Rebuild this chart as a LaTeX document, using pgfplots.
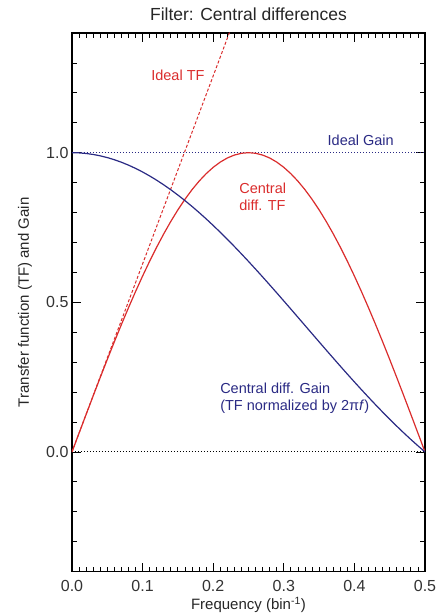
\documentclass[border=0pt]{standalone}
\usepackage{pgfplots}
\pgfplotsset{compat=1.18}
\usepackage{fontspec}
\setmainfont{Liberation Sans}

\definecolor{tfred}{RGB}{218,44,44}
\definecolor{gainblue}{RGB}{42,42,132}

% Transfer function of the central-difference filter, sin(2 pi f),
% and its gain, the transfer function divided by 2 pi f
\pgfplotstableread{
f tf gain
0.00 0.00000 1.00000
0.01 0.06279 0.99934
0.02 0.12533 0.99737
0.03 0.18738 0.99408
0.04 0.24869 0.98951
0.05 0.30902 0.98364
0.06 0.36812 0.97647
0.07 0.42578 0.96807
0.08 0.48175 0.95842
0.09 0.53583 0.94756
0.10 0.58779 0.93549
0.11 0.63742 0.92226
0.12 0.68455 0.90791
0.13 0.72897 0.89246
0.14 0.77051 0.87593
0.15 0.80902 0.85840
0.16 0.84433 0.83987
0.17 0.87631 0.82041
0.18 0.90483 0.80004
0.19 0.92978 0.77884
0.20 0.95106 0.75683
0.21 0.96858 0.73407
0.22 0.98229 0.71062
0.23 0.99211 0.68652
0.24 0.99803 0.66184
0.25 1.00000 0.63662
0.26 0.99803 0.61093
0.27 0.99211 0.58481
0.28 0.98229 0.55835
0.29 0.96858 0.53157
0.30 0.95106 0.50455
0.31 0.92978 0.47736
0.32 0.90483 0.45003
0.33 0.87631 0.42263
0.34 0.84433 0.39523
0.35 0.80902 0.36788
0.36 0.77051 0.34064
0.37 0.72897 0.31356
0.38 0.68455 0.28671
0.39 0.63742 0.26012
0.40 0.58779 0.23387
0.41 0.53583 0.20800
0.42 0.48175 0.18255
0.43 0.42578 0.15759
0.44 0.36812 0.13316
0.45 0.30902 0.10929
0.46 0.24869 0.08604
0.47 0.18738 0.06345
0.48 0.12533 0.04156
0.49 0.06279 0.02039
0.50 0.00000 0.00000
}\filtertable

\begin{document}
\begin{tikzpicture}
\begin{axis}[
  scale only axis,
  width=353pt, height=538.6pt,
  xmin=0, xmax=0.5, ymin=-0.4, ymax=1.4,
  xtick={0,0.1,...,0.5},
  minor x tick num=9,
  ytick={0,0.5,1},
  minor ytick={-0.3,-0.2,-0.1,0.1,0.2,0.3,0.4,0.6,0.7,0.8,0.9,1.1,1.2,1.3},
  tick align=inside,
  major tick length=9pt,
  minor tick length=5pt,
  every tick/.style={black, line width=0.8pt},
  axis line style={line width=1.2pt},
  xticklabel style={/pgf/number format/fixed, /pgf/number format/fixed zerofill, /pgf/number format/precision=1, yshift=-5pt},
  yticklabel style={/pgf/number format/fixed, /pgf/number format/fixed zerofill, /pgf/number format/precision=1},
  /pgf/number format/assume math mode=true,
  tick label style={font=\fontsize{16}{18}\selectfont, text=black!80},
  label style={font=\fontsize{15}{17}\selectfont, text=black!85},
  title style={font=\fontsize{17.5}{19}\selectfont, text=black!85, at={(0.5,1)}, anchor=south, yshift=3pt},
  title={Filter: Central differences},
  xlabel={Frequency (bin\textsuperscript{-1})},
  ylabel={Transfer function (TF) and Gain},
  xlabel style={at={(rel axis cs:0.5,0)}, anchor=center, yshift=-33pt},
  ylabel style={at={(rel axis cs:0,0.5)}, anchor=center, yshift=47pt},
  clip=true,
]
\coordinate (bl) at (rel axis cs:0,0);
\coordinate (tr) at (rel axis cs:1,1);

% reference levels
\addplot[black, dotted, line width=1pt] coordinates {(0,0) (0.5,0)};
\addplot[gainblue, dotted, line width=1pt] coordinates {(0,1) (0.5,1)};

% ideal transfer function 2 pi f
\addplot[tfred, dashed, dash pattern=on 3pt off 2pt, line width=1pt] coordinates {(0,0) (0.25,1.5708)};

% central difference transfer function and gain
\addplot[tfred, line width=1.2pt] table[x=f, y=tf] {\filtertable};
\addplot[gainblue, line width=1.2pt] table[x=f, y=gain] {\filtertable};

\node[text=tfred, font=\fontsize{14.5}{16}\selectfont] at (axis cs:0.150,1.258) {Ideal TF};
\node[text=gainblue, font=\fontsize{14.5}{16}\selectfont] at (axis cs:0.409,1.041) {Ideal Gain};
\node[text=tfred, font=\fontsize{14.5}{17}\selectfont, align=left, anchor=west] at (axis cs:0.232,0.854) {Central\\diff. TF};
\node[text=gainblue, font=\fontsize{14.5}{17}\selectfont, align=left, anchor=west] at (axis cs:0.205,0.181) {Central diff. Gain\\(TF normalized by 2π\textit{f})};
\end{axis}
\pgfresetboundingbox
\path[use as bounding box] ([xshift=-72pt, yshift=-42.4pt]bl) rectangle ([xshift=13pt, yshift=33pt]tr);
\end{tikzpicture}
\end{document}
